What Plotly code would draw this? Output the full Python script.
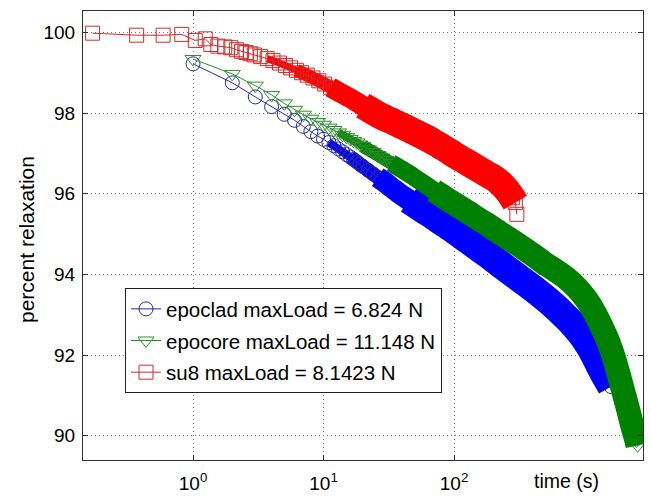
import plotly.graph_objects as go

# ---------------- data ----------------
series_names = [
    "epoclad maxLoad = 6.824 N",
    "epocore maxLoad = 11.148 N",
    "su8 maxLoad = 8.1423 N",
]

epoclad_t = [1, 2, 3, 4, 5, 6, 7, 8, 9, 10, 11, 12, 13, 14, 15, 16, 17, 18, 19, 20,
             22, 24, 26, 28, 30, 33, 36, 40, 45, 50, 60, 70, 80, 90, 100, 120, 140,
             160, 180, 200, 230, 260, 300, 350, 400, 450, 500, 600, 700, 800, 900,
             1000, 1100, 1200, 1300, 1400, 1500, 1600]
epoclad_v = [99.22, 98.75, 98.40, 98.16, 97.97, 97.82, 97.67, 97.54, 97.43, 97.35,
             97.27, 97.19, 97.11, 97.04, 96.97, 96.91, 96.85, 96.79, 96.73, 96.68,
             96.58, 96.49, 96.41, 96.34, 96.27, 96.16, 96.07, 95.96, 95.85, 95.75,
             95.58, 95.44, 95.31, 95.20, 95.10, 94.91, 94.76, 94.62, 94.50, 94.39,
             94.24, 94.11, 93.96, 93.80, 93.66, 93.53, 93.41, 93.19, 92.98, 92.79,
             92.60, 92.41, 92.20, 91.98, 91.75, 91.55, 91.38, 91.22]

epocore_t = [1, 2, 3, 4, 5, 6, 7, 8, 9, 10, 11, 12, 13, 14, 15, 16, 17, 18, 19, 20,
             22, 24, 26, 28, 30, 33, 36, 40, 45, 50, 60, 70, 80, 90, 100, 120, 140,
             160, 180, 200, 230, 260, 300, 350, 400, 450, 500, 600, 700, 800, 900,
             1000, 1100, 1200, 1300, 1400, 1500, 1600, 1700, 1800, 1900, 2000, 2100,
             2200, 2300, 2400, 2500, 2550]
epocore_v = [99.34, 98.97, 98.68, 98.45, 98.24, 98.08, 97.96, 97.86, 97.78, 97.71,
             97.64, 97.58, 97.52, 97.46, 97.41, 97.36, 97.31, 97.27, 97.22, 97.18,
             97.10, 97.03, 96.96, 96.90, 96.84, 96.76, 96.69, 96.60, 96.50, 96.40,
             96.23, 96.08, 95.96, 95.85, 95.76, 95.60, 95.46, 95.34, 95.24, 95.14,
             95.01, 94.90, 94.77, 94.62, 94.49, 94.37, 94.26, 94.10, 93.95, 93.79,
             93.62, 93.44, 93.25, 93.04, 92.82, 92.60, 92.38, 92.14, 91.88, 91.60,
             91.32, 91.05, 90.80, 90.55, 90.30, 90.08, 89.88, 89.76]

su8_t = [0.17, 0.37, 0.59, 0.82, 1.04, 1.24, 1.37, 1.55, 1.75, 1.95, 2.15, 2.35,
         2.55, 2.75, 2.95, 3.3, 3.7, 4.1, 4.6, 5.1, 5.6, 6.2, 6.8, 7.5, 8.3, 9.2,
         10.2, 11.3, 12.5, 14, 16, 18, 20, 23, 26, 30, 35, 40, 45, 50, 60, 70, 80,
         90, 100, 120, 140, 160, 180, 200, 220, 240, 260, 280, 295, 303]
su8_v = [99.98, 99.93, 99.93, 99.95, 99.80, 99.84, 99.70, 99.66, 99.64, 99.62,
         99.57, 99.53, 99.50, 99.47, 99.44, 99.40, 99.35, 99.30, 99.24, 99.18,
         99.12, 99.06, 99.00, 98.94, 98.87, 98.80, 98.72, 98.64, 98.56, 98.47,
         98.37, 98.27, 98.18, 98.07, 97.97, 97.87, 97.77, 97.68, 97.60, 97.53,
         97.40, 97.28, 97.17, 97.07, 96.97, 96.82, 96.69, 96.58, 96.48, 96.40,
         96.30, 96.18, 96.05, 95.90, 95.78, 95.49]

x_tickvals = [1, 10, 100]
x_ticktext = ["10<sup>0</sup>", "10<sup>1</sup>", "10<sup>2</sup>"]
y_tickvals = [90, 92, 94, 96, 98, 100]
y_ticktext = ["90", "92", "94", "96", "98", "100"]
x_title = "time (s)"
y_title = "percent relaxation"

# ---------------- styling ----------------
colors = ["#0000ff", "#008000", "#ff0000"]
edge_colors = ["#2a2a9e", "#2e8e2e", "#d42a2a"]
symbols = ["circle-open", "triangle-down-open", "square-open"]
msizes = [14, 14, 14]
# dense-region bands: (start time, end time, width px, drawn above markers?)
bands = [
    [(11, 25, 8, False), (16, 40, 14, False), (26, 70, 21, True), (45, 1e5, 28, True)],
    [(13, 30, 8, False), (20, 50, 13, False), (33, 90, 18, True), (65, 1e5, 24, True)],
    [(3.5, 9, 7, False), (6, 16, 13, False), (11, 30, 20, True), (20, 296, 27, True)],
]

data = [(epoclad_t, epoclad_v), (epocore_t, epocore_v), (su8_t, su8_v)]


def band_trace(t, v, lo, hi, w, color):
    st = [a for a in t if lo <= a <= hi]
    sv = [b for a, b in zip(t, v) if lo <= a <= hi]
    return go.Scatter(x=st, y=sv, mode="lines", showlegend=False, hoverinfo="skip",
                      line=dict(color=color, width=w, shape="spline", smoothing=1))


fig = go.Figure()
for i, (t, v) in enumerate(data):
    for lo, hi, w, above in bands[i]:
        if not above:
            fig.add_trace(band_trace(t, v, lo, hi, w, colors[i]))
    fig.add_trace(go.Scatter(
        x=t, y=v, mode="lines+markers", name=series_names[i],
        legendgroup=f"g{i}",
        line=dict(color=edge_colors[i], width=1),
        marker=dict(symbol=symbols[i], size=msizes[i], color=edge_colors[i],
                    line=dict(color=edge_colors[i], width=1)),
    ))
    for lo, hi, w, above in bands[i]:
        if above:
            fig.add_trace(band_trace(t, v, lo, hi, w, colors[i]))

FONT = "Liberation Sans, Arial, Helvetica, sans-serif"
axis_common = dict(
    showline=True, linecolor="#303030", linewidth=1, mirror="allticks",
    ticks="inside", ticklen=5, tickcolor="#303030",
    showgrid=True, gridcolor="#7a7a7a", griddash="1px,3px", gridwidth=1,
    zeroline=False, automargin=False,
    tickfont=dict(family=FONT, size=19, color="black"),
)

fig.update_layout(
    width=651, height=498,
    margin=dict(l=83, r=8, t=11, b=38, autoexpand=False),
    paper_bgcolor="white", plot_bgcolor="white",
    font=dict(family=FONT, color="black"),
    showlegend=True,
    legend=dict(
        x=0.075, y=0.383, xanchor="left", yanchor="top",
        bgcolor="white", bordercolor="#202020", borderwidth=1,
        font=dict(family=FONT, size=20.5, color="black"),
        tracegroupgap=2, itemwidth=30,
        entrywidth=284, entrywidthmode="pixels",
    ),
    xaxis=dict(type="log", range=[-0.843, 3.448],
               tickvals=x_tickvals, ticktext=x_ticktext,
               ticklabelstandoff=6, **axis_common),
    yaxis=dict(range=[89.4, 100.53], tickvals=y_tickvals, ticktext=y_ticktext,
               ticklabelstandoff=3, **axis_common),
    annotations=[
        dict(text=x_title, xref="paper", yref="paper",
             x=0.864, y=-0.047, xanchor="center", yanchor="middle",
             showarrow=False, font=dict(family=FONT, size=19.5, color="black")),
        dict(text=y_title, xref="paper", yref="paper", textangle=-90,
             x=-0.1, y=0.49, xanchor="center", yanchor="middle",
             showarrow=False, font=dict(family=FONT, size=21, color="black")),
    ],
)

fig.write_html("out.html",
               config={"displayModeBar": False},
               post_script="document.body.style.margin='0px';"
                           "document.body.style.padding='0px';")
